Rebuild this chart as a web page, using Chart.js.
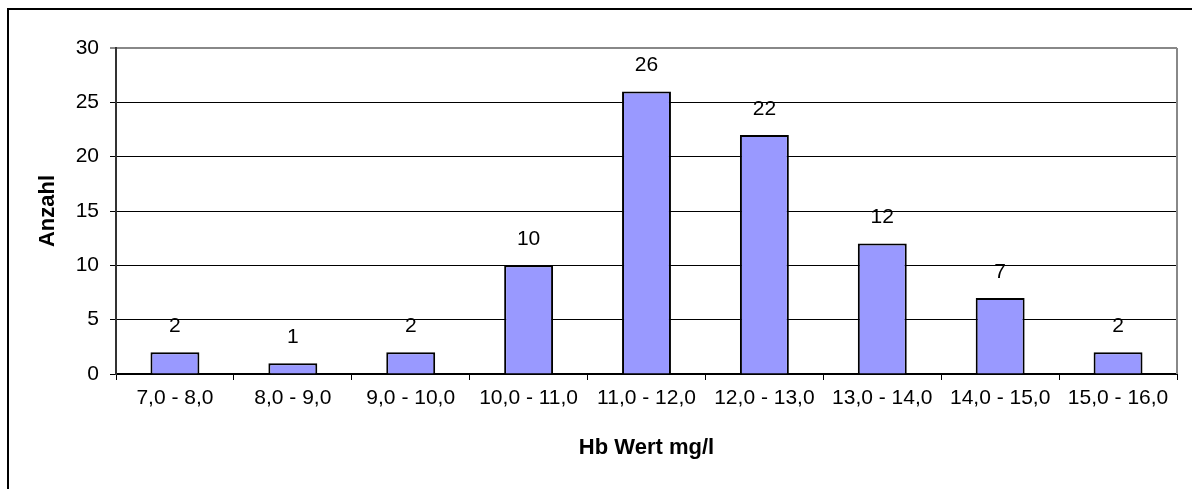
<!DOCTYPE html>
<html>
<head>
<meta charset="utf-8">
<script src="https://cdn.jsdelivr.net/npm/chart.js@4"></script>
<style>
  html, body { margin: 0; padding: 0; background: #fff; overflow: hidden; }
  #wrap { position: relative; width: 1192px; height: 489px; }
  #frame { position: absolute; left: 7px; top: 8px; width: 1200px; height: 500px; border: 2px solid #000; box-sizing: border-box; }
  #hb { position: absolute; left: 0; top: 0; }
</style>
</head>
<body>
<div id="wrap">
  <div id="frame"></div>
  <canvas id="hb" width="1192" height="489"></canvas>
</div>
<script>
// Hb-Werte: Klassen und Anzahl
const categories = ['7,0 - 8,0', '8,0 - 9,0', '9,0 - 10,0', '10,0 - 11,0', '11,0 - 12,0',
  '12,0 - 13,0', '13,0 - 14,0', '14,0 - 15,0', '15,0 - 16,0'];
const counts = [2, 1, 2, 10, 26, 22, 12, 7, 2];
const yTicks = [0, 5, 10, 15, 20, 25, 30];

const FONT = 'Liberation Sans, Arial, sans-serif';

// Werte über den Balken
const barLabels = {
  id: 'barLabels',
  afterDatasetsDraw(chart) {
    const ctx = chart.ctx;
    const meta = chart.getDatasetMeta(0);
    ctx.save();
    ctx.font = '21px ' + FONT;
    ctx.fillStyle = '#000';
    ctx.textAlign = 'center';
    ctx.textBaseline = 'middle';
    meta.data.forEach((bar, i) => {
      ctx.fillText(String(counts[i]), bar.x, bar.y - 26);
    });
    ctx.restore();
  }
};

// grauer Rahmen der Zeichenfläche (rechts)
const plotFrame = {
  id: 'plotFrame',
  beforeDatasetsDraw(chart) {
    const { top, right, bottom } = chart.chartArea;
    const ctx = chart.ctx;
    ctx.save();
    ctx.strokeStyle = '#888';
    ctx.lineWidth = 2;
    ctx.beginPath();
    ctx.moveTo(right, bottom);
    ctx.lineTo(right, top);
    ctx.stroke();
    ctx.restore();
  }
};

new Chart(document.getElementById('hb').getContext('2d'), {
  type: 'bar',
  data: {
    labels: categories,
    datasets: [{
      data: counts,
      backgroundColor: '#9999ff',
      borderColor: '#000',
      borderWidth: 2,
      categoryPercentage: 1,
      barPercentage: 0.415
    }]
  },
  options: {
    responsive: false,
    animation: false,
    devicePixelRatio: 1,
    layout: { padding: { top: 48, right: 15, left: 0, bottom: 0 } },
    plugins: {
      legend: { display: false },
      tooltip: { enabled: false }
    },
    scales: {
      x: {
        afterFit: s => { s.height = 115; },
        grid: {
          offset: true,
          drawOnChartArea: false,
          tickLength: 6,
          color: '#000'
        },
        border: { color: '#000', width: 2 },
        ticks: { color: '#000', padding: 6, maxRotation: 0, font: { family: FONT, size: 21 } },
        title: {
          display: true,
          text: 'Hb Wert mg/l',
          color: '#000',
          font: { family: FONT, size: 22, weight: 'bold' },
          padding: { top: 0, bottom: 28 }
        }
      },
      y: {
        min: 0,
        max: 30,
        afterFit: s => { s.width = 116; },
        afterBuildTicks: s => { s.ticks = yTicks.map(v => ({ value: v })); },
        grid: {
          tickLength: 6,
          color: c => (c.tick && c.tick.value === 30 ? '#888' : '#000'),
          lineWidth: c => (c.tick && c.tick.value === 30 ? 2 : 1)
        },
        border: { color: '#333', width: 2 },
        ticks: { color: '#000', padding: 11, font: { family: FONT, size: 21 } },
        title: {
          display: true,
          text: 'Anzahl',
          color: '#000',
          font: { family: FONT, size: 22, weight: 'bold' },
          padding: { top: 35, bottom: 0 }
        }
      }
    }
  },
  plugins: [plotFrame, barLabels]
});
</script>
</body>
</html>
